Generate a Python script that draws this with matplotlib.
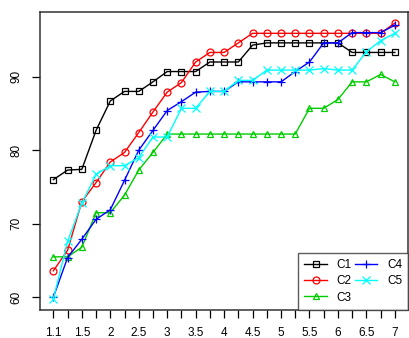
import numpy as np
import matplotlib
matplotlib.use("Agg")
import matplotlib.pyplot as plt

plt.rcParams['font.family'] = ['Liberation Sans', 'DejaVu Sans']

# parameter grid (plotted at equal spacing, every other value labelled)
x_vals = [1.1, 1.3, 1.5, 1.75, 2.0, 2.25, 2.5, 2.75, 3.0, 3.25, 3.5, 3.75, 4.0,
          4.25, 4.5, 4.75, 5.0, 5.25, 5.5, 5.75, 6.0, 6.25, 6.5, 6.75, 7.0]

c1 = [76.0, 77.3, 77.4, 82.7, 86.7, 88.0, 88.0, 89.3, 90.7, 90.7, 90.7, 92.0, 92.0,
      92.0, 94.3, 94.6, 94.6, 94.6, 94.6, 94.6, 94.6, 93.3, 93.3, 93.3, 93.3]
c2 = [63.6, 66.4, 73.0, 75.6, 78.4, 79.7, 82.4, 85.2, 87.9, 89.2, 92.0, 93.3, 93.3,
      94.6, 95.9, 95.9, 95.9, 95.9, 95.9, 95.9, 95.9, 95.9, 95.9, 95.9, 97.3]
c3 = [65.5, 65.5, 66.8, 71.5, 71.5, 73.9, 77.3, 79.7, 82.2, 82.2, 82.2, 82.2, 82.2,
      82.2, 82.2, 82.2, 82.2, 82.2, 85.7, 85.7, 86.9, 89.3, 89.3, 90.3, 89.3]
c4 = [60.0, 65.4, 67.9, 70.6, 71.9, 75.9, 80.0, 82.7, 85.4, 86.6, 87.9, 88.0, 88.0,
      89.3, 89.3, 89.3, 89.3, 90.7, 92.0, 94.6, 94.6, 96.0, 96.0, 96.0, 97.0]
c5 = [59.8, 67.6, 72.8, 76.7, 77.9, 77.9, 79.0, 81.8, 81.8, 85.7, 85.7, 88.0, 88.0,
      89.5, 89.5, 90.9, 90.9, 90.9, 90.9, 91.1, 90.9, 90.9, 93.4, 94.9, 95.9]

series = [("C1", c1, "black", "s"),
          ("C2", c2, "red", "o"),
          ("C3", c3, "#00CD00", "^"),
          ("C4", c4, "blue", "+"),
          ("C5", c5, "cyan", "x")]

fig = plt.figure(figsize=(4.1, 3.38), dpi=100)
ax = fig.add_axes([40 / 410, 1 - 310 / 338, 368.5 / 410, 298 / 338])

idx = np.arange(len(x_vals))
for name, vals, col, mk in series:
    ax.plot(idx, vals, color=col, marker=mk, lw=1.0, ms=5 if mk not in "+x" else 6,
            mew=0.9, fillstyle='none', label=name)

ax.set_xlim(-0.94, 24.96)
ax.set_ylim(58.27, 98.8)

ax.set_xticks(idx)
ax.set_xticklabels(["%g" % v if i % 2 == 0 else "" for i, v in enumerate(x_vals)])
ax.set_yticks([60, 70, 80, 90])
ax.tick_params(direction='out', length=5.5, width=0.9, labelsize=8.5, pad=7)
plt.setp(ax.get_yticklabels(), rotation=90, va='center')

for sp in ax.spines.values():
    sp.set_linewidth(1.1)
    sp.set_color('#333333')

leg = ax.legend(loc='lower right', ncol=2, fontsize=8.5, frameon=True, fancybox=False,
                borderaxespad=0, handlelength=1.9, handletextpad=0.8,
                columnspacing=0.3, labelspacing=0.35, borderpad=0.55)
leg.get_frame().set_edgecolor('#333333')
leg.get_frame().set_linewidth(1.0)

fig.savefig("out.png", dpi=100)
